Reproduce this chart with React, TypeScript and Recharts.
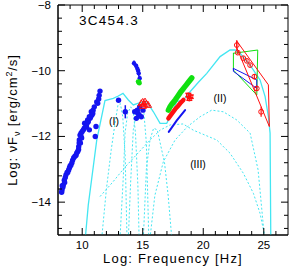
import { ComposedChart, Line, Scatter, XAxis, YAxis, ReferenceArea, ErrorBar } from 'recharts'

// plot frame in page pixels (chart is pinned to the page corner)
const PL = 58
const PR = 288
const PT = 5
const PB = 235
const FONT = '"Liberation Sans", Arial, sans-serif'

const BLUE = '#1414f0'
const RED = '#ff1010'
const GREEN = '#10e010'
const CYAN = '#44e6f2'

const xMajor = [10, 15, 20, 25]
const xMinor = [9, 11, 12, 13, 14, 16, 17, 18, 19, 21, 22, 23, 24, 26]
const yMajor = [-14, -12, -10, -8]
const yMinor = [-14.8, -14.4, -13.6, -13.2, -12.8, -12.4, -11.6, -11.2, -10.8, -10.4, -9.6, -9.2, -8.8, -8.4]

// radio / mm archive points
const radioPts: number[][] = [
  [8.33, -13.63], [8.3, -13.7], [8.35, -13.5], [8.4, -13.55], [8.44, -13.48], [8.52, -13.33],
  [8.55, -13.4], [8.6, -13.25], [8.66, -13.17], [8.75, -13.1], [8.8, -13.1], [8.88, -13.02],
  [8.95, -12.95], [9.0, -12.9], [9.07, -12.87], [9.15, -12.8], [9.21, -12.72], [9.3, -12.65],
  [9.4, -12.6], [9.49, -12.57], [9.55, -12.5], [9.63, -12.46], [9.7, -12.4], [9.71, -12.31],
  [9.75, -12.2], [9.76, -12.11], [9.85, -12.2], [9.9, -12.0], [9.95, -12.05], [9.82, -11.96],
  [9.9, -11.9], [10.0, -11.85], [10.1, -11.8], [10.17, -11.75], [10.2, -11.6], [10.31, -11.65],
  [10.35, -11.7], [10.4, -11.6], [10.45, -11.5], [10.5, -11.55], [10.59, -11.4], [10.59, -11.8],
  [10.65, -11.45], [10.7, -11.4], [10.75, -11.25], [10.8, -11.35], [10.87, -11.3], [10.9, -11.2],
  [11.0, -11.1], [11.08, -12.0], [11.14, -11.7], [11.2, -10.95], [11.28, -10.99], [11.36, -10.86],
  [11.4, -10.75], [11.47, -10.62],
]
// x, y, error
const blueOptPts: number[][] = [
  [14.28, -9.77, 0.08], [14.45, -9.85, 0.06], [14.55, -9.93, 0.1], [14.62, -10.0, 0.08],
  [14.67, -10.08, 0.1], [14.75, -10.23, 0.08],
]
const blueLowPts: number[][] = [
  [13.0, -10.9, 0], [13.56, -11.25, 0.2], [14.34, -11.25, 0], [14.61, -11.3, 0], [14.88, -11.4, 0],
  [14.47, -11.45, 0], [15.02, -11.2, 0], [14.75, -11.1, 0], [14.55, -11.2, 0], [14.7, -11.35, 0],
]
const greenOptPts: number[][] = [[14.62, -10.33], [14.67, -10.36], [14.72, -10.38], [14.7, -10.34]]
const redUvPts: number[][] = [
  [14.88, -10.99], [15.0, -10.95], [15.19, -10.94], [15.3, -11.0], [15.44, -11.04], [15.02, -11.07], [15.1, -11.02],
]
const greenXray: number[][] = [
  [17.12, -11.2], [17.25, -11.1], [17.4, -11.02], [17.55, -10.95], [17.7, -10.88], [17.85, -10.8],
  [18.0, -10.72], [18.15, -10.64], [18.3, -10.57], [18.45, -10.5], [18.6, -10.43], [18.75, -10.36],
  [18.9, -10.29], [19.05, -10.22],
]
const redXray: number[][] = [
  [17.12, -11.45], [17.3, -11.36], [17.5, -11.26], [17.7, -11.16], [17.9, -11.08], [18.1, -10.99], [18.36, -10.89],
]
const redXrayPts: number[][] = [[18.77, -10.74, 0.05], [18.97, -10.79, 0.05], [18.85, -10.86, 0.04]]
const blueXray: number[][] = [[17.15, -11.86], [17.8, -11.52], [18.5, -11.2]]

// gamma-ray bow ties and points
const redBowtie: number[][] = [[22.77, -9.1], [25.38, -10.43], [25.46, -11.7], [22.77, -9.3], [22.77, -9.1]]
const greenBowtie: number[][] = [[22.49, -9.47], [24.5, -9.37], [24.42, -10.74], [22.49, -9.98], [22.49, -9.47]]
const blueBowtie: number[][] = [[22.49, -9.93], [24.42, -10.28], [24.42, -10.54], [22.49, -10.02], [22.49, -9.93]]
const redGammaPts: number[][] = [
  [22.77, -9.22, 0.15], [22.85, -9.45, 0.05], [23.31, -9.62, 0.05], [23.6, -9.7, 0.05],
  [23.87, -9.83, 0.05], [24.22, -10.18, 0.08], [24.42, -10.54, 0.08], [24.78, -11.25, 0.15],
]

// model: total and components
const modelTotal: number[][] = [
  [10.23, -15.2], [10.5, -14.09], [11.2, -12.11], [11.88, -10.91], [12.57, -10.84], [12.98, -10.77],
  [13.37, -10.69], [13.81, -10.89], [14.22, -11.04], [14.78, -10.97], [15.33, -10.94], [15.88, -11.25],
  [16.43, -11.6], [16.98, -11.6], [17.4, -11.3], [17.81, -10.94], [18.36, -10.89], [18.91, -10.64],
  [19.6, -10.35], [20.29, -10.08], [21.39, -9.57], [22.21, -9.37], [22.63, -9.37], [23.04, -9.47],
  [23.87, -9.83], [24.69, -10.28], [25.11, -10.79], [25.38, -11.4], [25.52, -11.9], [25.58, -15.2],
]
const syn1: number[][] = [
  [11.61, -15.1], [12.0, -13.6], [12.4, -12.4], [12.71, -11.6], [12.95, -11.05], [13.15, -11.0],
  [13.35, -11.4], [13.55, -12.6], [13.7, -15.1],
]
const syn2: number[][] = [
  [13.12, -15.1], [13.4, -13.2], [13.54, -11.9], [13.75, -11.3], [14.0, -11.1], [14.2, -11.2],
  [14.4, -11.9], [14.6, -13.5], [14.7, -15.1],
]
const syn3: number[][] = [
  [13.81, -15.1], [14.0, -13.4], [14.22, -11.8], [14.5, -11.25], [14.8, -11.1], [15.1, -11.3],
  [15.3, -12.2], [15.5, -15.1],
]
const syn4: number[][] = [
  [15.05, -15.1], [15.3, -13.0], [15.6, -12.1], [15.9, -11.75], [16.2, -11.8], [16.5, -12.3],
  [16.8, -12.8], [17.1, -13.8], [17.4, -15.1],
]
const ssc: number[][] = [
  [11.47, -13.83], [12.5, -13.4], [13.5, -12.95], [14.5, -12.55], [15.6, -12.11], [16.43, -11.81],
  [17.26, -11.65], [18.33, -11.62], [19.18, -11.81], [21.12, -12.11], [22.21, -12.51], [23.31, -13.12],
  [24.14, -13.73], [24.69, -14.34], [25.11, -15.1],
]
const ecDisk: number[][] = [
  [15.6, -15.1], [16.0, -13.8], [16.7, -12.77], [17.67, -12.11], [18.7, -11.7], [19.74, -11.4],
  [20.7, -11.2], [21.66, -11.25], [22.77, -11.5], [23.87, -11.9], [24.53, -13.02], [24.97, -14.75], [25.02, -15.1],
]

const pts = (a: number[][]) => a.map(([x, y, e]) => ({ x, y, e: e ?? 0 }))

function XTick(props: any) {
  const { x, payload } = props
  const v = payload.value
  const major = xMajor.includes(v)
  const len = major ? 7 : 4
  return (
    <g>
      <line x1={x} x2={x} y1={PB} y2={PB - len} stroke="#000" />
      <line x1={x} x2={x} y1={PT} y2={PT + len} stroke="#000" />
      {major && (
        <text x={x} y={249} textAnchor="middle" fontSize={11.5} fontFamily={FONT} fill="#000">
          {v}
        </text>
      )}
    </g>
  )
}

function YTick(props: any) {
  const { y, payload } = props
  const v = payload.value
  const major = yMajor.includes(v)
  const len = major ? 7 : 4
  return (
    <g>
      <line x1={PL} x2={PL + len} y1={y} y2={y} stroke="#000" />
      <line x1={PR - len} x2={PR} y1={y} y2={y} stroke="#000" />
      {major && (
        <text x={51} y={y + 4} textAnchor="end" fontSize={11.5} fontFamily={FONT} fill="#000">
          {'\u2212' + Math.abs(v)}
        </text>
      )}
    </g>
  )
}

const dot = (r: number, fill: string) => (p: any) => <circle cx={p.cx} cy={p.cy} r={r} fill={fill} />
const ring = (r: number, stroke: string) => (p: any) => (
  <circle cx={p.cx} cy={p.cy} r={r} fill="none" stroke={stroke} strokeWidth={1} />
)
const tri = (p: any) => (
  <path
    d={`M${p.cx},${p.cy - 3.5}L${p.cx + 3.5},${p.cy + 2.5}L${p.cx - 3.5},${p.cy + 2.5}Z`}
    fill="none"
    stroke={RED}
    strokeWidth={1}
  />
)

function dotted(data: number[][], key: string) {
  return (
    <Line
      key={key}
      data={pts(data)}
      dataKey="y"
      type="linear"
      dot={false}
      stroke={CYAN}
      strokeWidth={1}
      strokeDasharray="2 2"
      isAnimationActive={false}
    />
  )
}

function outline(data: number[][], color: string, w = 1) {
  return (
    <Line
      data={pts(data)}
      dataKey="y"
      type="linear"
      dot={false}
      stroke={color}
      strokeWidth={w}
      strokeLinecap="round"
      isAnimationActive={false}
    />
  )
}

export default function App() {
  return (
    <div style={{ position: 'absolute', left: 0, top: 0, width: 291, height: 269, background: '#fff' }}>
      <ComposedChart width={291} height={269} margin={{ top: PT, right: 291 - PR, bottom: 0, left: 0 }}>
        <XAxis
          dataKey="x"
          type="number"
          domain={[8, 27]}
          allowDataOverflow
          ticks={[...xMajor, ...xMinor]}
          interval={0}
          height={269 - PB}
          tickLine={false}
          axisLine={{ stroke: '#000' }}
          tick={<XTick />}
        />
        <YAxis
          dataKey="y"
          type="number"
          domain={[-15, -8]}
          allowDataOverflow
          ticks={[...yMajor, ...yMinor]}
          interval={0}
          width={PL}
          tickLine={false}
          axisLine={{ stroke: '#000' }}
          tick={<YTick />}
        />
        <ReferenceArea x1={8} x2={27} y1={-15} y2={-8} fill="none" stroke="#000" strokeWidth={1} />

        {dotted(syn1, 's1')}
        {dotted(syn2, 's2')}
        {dotted(syn3, 's3')}
        {dotted(syn4, 's4')}
        {dotted(ssc, 'ssc')}
        {dotted(ecDisk, 'ec')}
        <Line
          data={pts(modelTotal)}
          dataKey="y"
          type="linear"
          dot={false}
          stroke={CYAN}
          strokeWidth={1.3}
          isAnimationActive={false}
        />

        {outline(greenXray, GREEN, 5.5)}
        {outline(redXray, RED, 4.5)}
        {outline(blueXray, BLUE, 2)}
        {outline(greenBowtie, GREEN)}
        {outline(blueBowtie, BLUE)}
        {outline(redBowtie, RED)}

        <Scatter data={pts(radioPts)} shape={dot(2.7, BLUE)} isAnimationActive={false} />
        <Scatter data={pts(blueOptPts)} shape={dot(2.2, BLUE)} isAnimationActive={false}>
          <ErrorBar dataKey="e" direction="y" width={0} stroke={BLUE} strokeWidth={1.5} />
        </Scatter>
        <Scatter data={pts(blueLowPts)} shape={dot(2.7, BLUE)} isAnimationActive={false}>
          <ErrorBar dataKey="e" direction="y" width={0} stroke={BLUE} strokeWidth={1.5} />
        </Scatter>
        <Scatter data={pts(greenOptPts)} shape={dot(2.4, GREEN)} isAnimationActive={false} />
        <Scatter data={pts(redUvPts)} shape={tri} isAnimationActive={false} />
        <Scatter data={pts(redXrayPts)} shape={ring(2, RED)} isAnimationActive={false}>
          <ErrorBar dataKey="e" direction="y" width={3} stroke={RED} />
        </Scatter>
        <Scatter data={pts(redGammaPts)} shape={ring(2.4, RED)} isAnimationActive={false}>
          <ErrorBar dataKey="e" direction="y" width={0} stroke={RED} strokeWidth={1.2} />
        </Scatter>
      </ComposedChart>

      <svg
        width={291}
        height={269}
        style={{ position: 'absolute', left: 0, top: 0, pointerEvents: 'none' }}
        fontFamily={FONT}
      >
        <text x={109} y={25} textAnchor="middle" fontSize={13.5} letterSpacing={1.3} fill="#000">
          3C454.3
        </text>
        <text x={114} y={125} textAnchor="middle" fontSize={10.5} fill="#000">(I)</text>
        <text x={220} y={102} textAnchor="middle" fontSize={10.5} fill="#000">(II)</text>
        <text x={198} y={168} textAnchor="middle" fontSize={10.5} fill="#000">(III)</text>
        <text x={173} y={263} textAnchor="middle" fontSize={13} letterSpacing={1.2} fill="#000">
          Log: Frequency [Hz]
        </text>
        <text
          transform="translate(17,120) rotate(-90)"
          textAnchor="middle"
          fontSize={13}
          letterSpacing={0.9}
          fill="#000"
        >
          Log: {'\u03bd'}F
          <tspan dy={3} fontSize={9}>{'\u03bd'}</tspan>
          <tspan dy={-3}> [erg/cm</tspan>
          <tspan dy={-5} fontSize={9}>2</tspan>
          <tspan dy={5}>/s]</tspan>
        </text>
      </svg>
    </div>
  )
}
